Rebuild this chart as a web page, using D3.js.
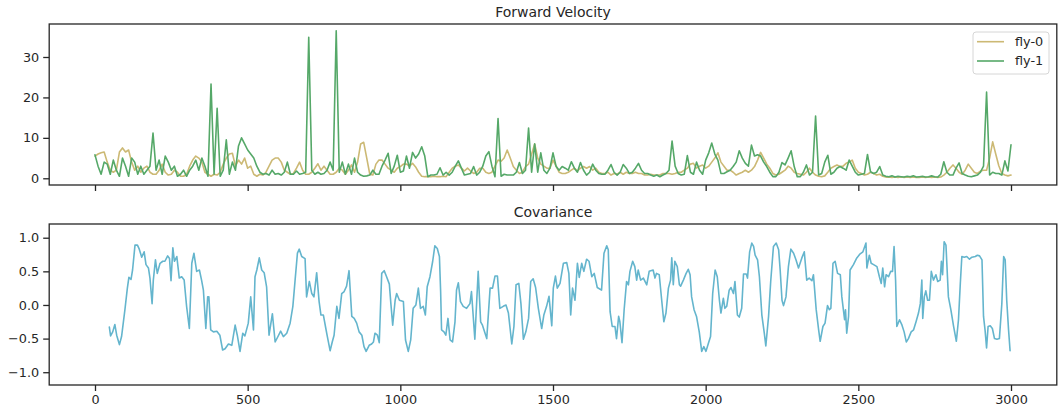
<!DOCTYPE html>
<html><head><meta charset="utf-8">
<script src="https://cdn.jsdelivr.net/npm/d3@7"></script>
<style>
body{margin:0;background:#fff}
svg text{font-family:"DejaVu Sans",sans-serif;fill:#262626}
</style>
</head><body>
<svg id="c" width="1063" height="415"></svg>
<script>
// ---- data ----
const xTicks = [0, 500, 1000, 1500, 2000, 2500, 3000];
const velTicks = [0, 10, 20, 30];
const covTicks = [-1.0, -0.5, 0.0, 0.5, 1.0];
const seriesNames = ["fly-0", "fly-1"];
const titles = ["Forward Velocity", "Covariance"];
// forward velocity sampled every 10 frames, 0..3000
const frameStep = 10;
const fly0 = [
 5.5,6,6.3,6.5,4,2,1.5,2,6.5,7.5,
 6.5,7,4,2,3,1.5,2.5,3,1.5,1,
 1,2,3.5,1.5,0.8,1,2,1.5,0.5,0.5,
 1,3,4.5,5.5,5,4,1.5,1,0.5,1,
 0.8,1.5,3.5,5,6,6.2,3,4.5,3.5,5,
 2.5,3,1,0.5,1,0.8,1.5,3,4.5,5,
 5,4,2,1.5,1,1.2,2.5,4,2,1,
 1,1.5,2.5,3.6,2,3,2,1,1,1.5,
 2.5,2,1,2,3.3,1.5,4,8.5,8.9,5,
 1,0.8,3.5,4.5,4.5,3.5,2.5,2,1.5,2.5,
 2.9,3.5,3.5,3,3.7,2.8,1.5,0.5,0.4,0.4,
 0.4,0.5,0.4,0.4,0.5,0.4,1.5,2.5,3,3.3,
 2.5,1.8,2.5,1.8,1.2,1.5,2.5,2.5,1.5,1.2,
 1.5,3,4.5,4.2,5,7,5,2.9,2,1.2,
 1.5,2.9,3.5,6,8.5,5,3.5,3,2.5,2.5,
 4.5,3,1.5,1.2,1.2,1.5,2,2.5,1.8,2.5,
 2.9,2.5,2.9,2,2.5,1.5,1.2,1.2,1.5,0.8,
 1.2,1,1.5,1,1.5,1.2,1.2,1.5,1.2,1.2,
 0.8,0.8,1,0.8,0.8,0.8,1.2,1.2,1.2,1,
 1.2,1.5,1.5,2,2.5,3.5,3.7,2.5,3,3.3,
 2.5,3,4,5,6.3,4,3,2,2,1.5,
 0.8,1.2,1.5,2,1.5,2,2.9,4.5,6.4,5,
 3.5,2.5,1.2,0.8,1,1.5,2,3,2.5,1.5,
 1.2,1,0.8,1.5,2.5,1.5,0.8,0.5,0.4,0.6,
 1.5,2.5,2.9,3.3,2.9,3,3.7,4,4.5,2.5,
 1.5,1.2,0.8,1,1.5,1.2,0.8,1,0.5,0.3,
 0.3,0.2,0.3,0.2,0.3,0.2,0.3,0.2,0.3,0.2,
 0.2,0.3,0.2,0.3,0.2,0.3,0.2,0.3,0.8,1.5,
 2.5,3.3,2.5,1.5,1,2,3.5,2.5,1.5,1.2,
 1.8,2,2,5,9,6,3.1,1.2,0.8,0.6,
 0.8
];
const fly1 = [
 5.8,3,1,4,3.5,1,4.5,2,0.5,5,
 3,0.5,5,4,1,3,1,2,3,11.2,
 2,4.5,1,5.5,4,2,3,0.5,1,2,
 0.5,2,3,4.5,2,5,3,0.5,23.3,1,
 17.3,0.5,2,9.5,1,4,2,8,10,8.5,
 7,6,5,3,1.5,1,1.2,0.8,2,1,
 1.2,0.8,1.5,4,1,1,1.8,1,1.2,1.5,
 34.9,2,1,1.5,1,1.2,2,4,2,36.5,
 1.5,4,1,3.5,1,5,1.5,0.8,0.5,0.6,
 0.8,2,1,1,3,4.5,6.2,1.2,3,5.7,
 1.5,1.8,5.5,2.5,6.4,5,6,7.8,5.5,0.4,
 0.8,0.8,1,2.6,0.8,1.5,0.8,1.5,3,4.3,
 2.5,0.8,1,1.2,2.9,0.8,1.5,3,5.5,6.6,
 3,0.4,14.8,0.5,1,0.8,0.8,0.8,1.5,3.9,
 1.2,2,12.4,1.5,8.5,1.5,6.3,2,1.2,2.5,
 6.3,3,2,2.9,2.5,2,4.1,2.5,1.5,3.9,
 2,0.8,1.5,3.5,2,1.2,1,1,2,3.4,
 1.5,0.8,1.5,3.4,2.5,1.2,1.5,2.5,3.7,2,
 1.2,1.2,0.8,0.5,0.8,0.4,0.8,1.2,2,9.2,
 3,1.2,0.8,1,5.6,1.5,1,4,2,1,
 4.5,6.3,8.7,6,4.5,1.2,1.2,1.6,2,2.9,
 4,6.8,5,3.7,3,8.2,5.5,5.8,5.5,4,
 2.9,1.5,0.4,0.4,1.5,3.9,3.3,5,6.8,2.9,
 0.4,0.4,1.5,3.3,0.8,1.5,15.4,0.8,1.2,4,
 5.7,1,1.5,2.5,2.9,2.5,2,4.5,3,1.5,
 0.8,1,1.2,5.9,1.6,1.2,1.5,2.9,0.8,0.5,
 0.4,0.6,0.3,0.5,0.4,0.3,0.5,0.4,0.6,0.3,
 0.4,0.5,0.3,0.4,0.6,0.4,0.3,1,4.1,1.5,
 0.8,0.8,2.5,3.8,1.2,0.8,0.5,0.4,0.6,0.8,
 1.5,3,21.3,0.8,1.5,1.2,1.2,0.8,4.3,1.8,
 8.3
];
// covariance (frame, value)
const covX = [47,51,58,65,71,80,87,98,106,111,118,123,131,139,145,153,161,167,175,180,187,191,198,204,213,222,229,238,244,249,255,260,268,276,284,292,300,309,317,324,333,342,349,355,363,369,373,379,388,399,409,418,426,437,448,459,466,475,484,491,502,510,519,524,530,538,546,554,562,570,581,590,598,608,617,628,639,648,655,663,669,677,688,693,702,710,717,726,734,740,748,756,761,770,777,783,792,799,808,816,824,832,841,849,857,865,874,881,888,898,906,912,917,925,931,939,947,955,964,969,975,983,988,997,
 1010,1017,1026,1034,1042,1051,1059,1066,1075,1082,1088,1097,1106,1113,1121,1128,1132,1135,1143,1149,1156,1163,1171,1179,1184,1190,1197,1206,1217,1228,1233,1244,1255,1263,1269,1283,1294,1302,1310,1318,1326,1337,1346,1354,1365,1372,1379,1388,1395,1403,1411,1420,1427,1435,1443,1452,1463,1470,1479,1487,1496,1501,1508,1514,1523,1534,1545,1552,1558,1564,1572,1580,1586,1594,1601,1610,1618,1627,1635,1645,1659,1667,1676,1681,1687,1694,1703,1708,1715,1719,1726,1733,1741,1747,1752,1761,1768,1774,1779,1787,1796,1807,1815,1828,1834,1839,1848,1856,1863,1870,1878,1885,1889,1894,1899,1907,1914,1918,1927,1936,1943,1949,1954,1962,1970,1979,1987,1994,2001,2009,2016,2023,2031,2038,2045,2050,2058,2063,2069,2077,2083,2091,2096,2104,2110,2118,2124,2133,2137,2144,2151,2157,2162,2170,2176,2184,2192,2197,2206,2213,2222,2231,2239,2244,2250,2255,2263,2271,2279,2288,2296,2304,2315,2323,2331,2339,2348,2353,2362,2370,2375,2384,2391,2399,2405,2410,2417,2424,2432,2441,2446,2451,2455,2458,2462,2468,2473,2484,2495,2506,2515,2525,2528,2536,2542,2550,2561,2569,2575,2580,2586,2591,2599,2606,2612,2617,2622,2626,2635,2643,2650,2657,2664,2673,2681,2689,2697,2703,2708,2711,2716,2721,2727,2733,2739,2746,2754,2760,2768,2772,2776,2781,2787,2795,2803,2812,2821,2828,2834,2839,2847,2855,2864,2872,2883,2890,2897,2905,2910,2915,2920,2925,2932,2939,2946,2954,2962,2970,2976,2981,2986,2992,2997];
const covY = [-0.33,-0.46,-0.40,-0.29,-0.45,-0.59,-0.47,-0.07,0.25,0.41,0.38,0.52,0.89,0.89,0.83,0.71,0.79,0.60,0.55,0.40,0.02,0.37,0.67,0.47,0.62,0.65,0.65,0.73,0.69,0.36,0.85,0.65,0.72,0.40,0.42,0.37,-0.02,-0.35,0.62,0.77,0.50,0.52,0.37,0.22,-0.35,0.12,0.12,-0.37,-0.40,-0.39,-0.45,-0.67,-0.65,-0.58,-0.60,-0.30,-0.45,-0.69,-0.42,-0.46,-0.27,0.12,-0.37,0.42,0.52,0.70,0.52,0.48,0.27,-0.45,-0.13,-0.55,-0.48,-0.39,-0.47,-0.42,-0.27,-0.02,0.35,0.77,0.83,0.72,0.69,0.12,0.35,0.17,0.12,0.48,0.05,-0.15,-0.15,-0.35,-0.47,-0.68,-0.55,-0.45,-0.02,-0.20,0.17,0.20,0.28,0.51,-0.17,-0.20,-0.27,-0.40,-0.45,-0.62,-0.69,-0.60,-0.58,-0.55,-0.42,-0.45,-0.56,0.47,0.51,0.42,0.31,0.02,-0.30,0.07,0.17,0.07,
 0.05,-0.52,-0.69,-0.52,-0.05,0.00,0.25,-0.05,-0.02,-0.15,0.27,0.42,0.65,0.88,0.84,0.72,0.20,-0.37,-0.40,-0.45,-0.20,-0.52,-0.55,-0.25,0.22,0.33,0.05,-0.02,-0.05,0.02,0.20,-0.51,0.50,-0.25,-0.30,-0.50,0.25,0.25,0.43,0.43,-0.05,-0.02,0.00,-0.12,-0.58,-0.32,0.30,0.32,0.02,-0.51,-0.40,-0.20,0.35,0.39,0.26,-0.05,-0.35,-0.15,-0.02,0.13,-0.31,0.25,0.43,0.25,0.32,0.62,0.63,0.47,-0.15,0.25,0.07,0.62,0.41,0.62,0.50,0.68,0.65,0.42,0.47,0.26,0.22,0.77,0.88,0.82,-0.10,-0.32,-0.32,-0.50,-0.17,-0.25,-0.56,-0.07,0.35,0.30,0.50,0.65,0.57,0.37,0.52,0.37,0.40,0.30,0.50,0.52,0.40,0.47,0.45,0.07,-0.25,-0.12,0.25,0.37,0.70,0.30,0.65,0.57,0.30,0.28,0.37,0.47,0.53,0.45,0.12,-0.07,-0.17,-0.40,-0.69,-0.62,-0.69,-0.57,-0.47,0.17,0.52,0.42,0.07,-0.12,0.10,-0.05,-0.02,0.22,0.26,0.17,0.35,-0.15,-0.18,-0.05,0.46,0.46,0.40,0.79,0.92,0.87,0.74,0.67,0.42,-0.15,-0.42,-0.61,-0.17,0.35,0.87,0.92,0.82,0.52,0.07,-0.01,0.12,0.57,0.83,0.77,0.67,0.55,0.70,0.79,0.37,0.40,0.36,0.45,-0.07,-0.37,-0.54,-0.32,-0.27,-0.01,-0.07,-0.05,0.62,0.65,0.47,0.45,0.12,-0.07,-0.22,-0.07,-0.42,-0.17,0.52,0.60,0.70,0.76,0.79,0.92,0.55,0.74,0.62,0.60,0.57,0.42,0.32,0.55,0.27,0.45,0.42,0.50,0.50,0.87,0.37,-0.32,-0.22,-0.30,-0.40,-0.55,-0.50,-0.40,-0.37,-0.25,-0.12,0.02,0.37,-0.20,0.12,0.21,0.07,0.07,0.50,0.37,0.45,0.35,0.37,0.65,0.45,0.94,0.89,0.12,-0.07,-0.32,-0.54,-0.22,0.32,0.72,0.71,0.72,0.68,0.71,0.72,0.74,0.73,0.67,-0.17,-0.37,-0.64,-0.32,-0.31,-0.35,-0.50,-0.51,-0.50,0.02,0.72,0.67,0.07,-0.37,-0.68];

// ---- styles ----
const colors = {"fly-0": "#ccb974", "fly-1": "#55a868", cov: "#64b5cd"};
const ink = "#262626";
const tickFont = "12.8px", titleFont = "14px";

const svg = d3.select("#c");
const x = d3.scaleLinear().domain([-150, 3150]).range([49.2, 1056.8]);
const yV = d3.scaleLinear().domain([-1.66, 38.16]).range([185, 24]);
const yC = d3.scaleLinear().domain([-1.19, 1.204]).range([385, 224]);

function panel(y, top, bottom, yTicks, yFmt, showX, title) {
  const g = svg.append("g");
  const ax = d3.axisBottom(x).tickValues(xTicks).tickSize(6).tickPadding(3.5)
      .tickFormat(showX ? d3.format("d") : () => "");
  const gx = g.append("g").attr("transform", `translate(0,${bottom})`).call(ax);
  const ay = d3.axisLeft(y).tickValues(yTicks).tickSize(6).tickPadding(4).tickFormat(yFmt);
  const gy = g.append("g").attr("transform", `translate(${x.range()[0]},0)`).call(ay);
  [gx, gy].forEach(a => {
    a.select(".domain").remove();
    a.selectAll(".tick line").attr("stroke", ink).attr("stroke-width", 1.3);
    a.selectAll(".tick text").attr("font-size", tickFont).attr("fill", ink)
      .style("font-family", '"DejaVu Sans", sans-serif');
  });
  g.append("text").attr("x", (x.range()[0] + x.range()[1]) / 2).attr("y", top - 7)
    .attr("text-anchor", "middle").attr("font-size", titleFont).text(title);
  return g;
}

panel(yV, 24, 185, velTicks, d3.format("d"), false, titles[0]);
panel(yC, 224, 385, covTicks, d3.format(".1f"), true, titles[1]);

const clip = (id, top, bottom) => svg.append("clipPath").attr("id", id)
  .append("rect").attr("x", x.range()[0]).attr("y", top)
  .attr("width", x.range()[1] - x.range()[0]).attr("height", bottom - top);
clip("cpT", 24, 185); clip("cpB", 224, 385);

const lineV = d3.line().x((d, i) => x(i * frameStep)).y(d => yV(d));
[["fly-0", fly0], ["fly-1", fly1]].forEach(([name, vals]) => {
  svg.append("path").attr("clip-path", "url(#cpT)").datum(vals)
    .attr("d", lineV).attr("fill", "none").attr("stroke", colors[name])
    .attr("stroke-width", 1.6).attr("stroke-linejoin", "round").attr("stroke-linecap", "round");
});

const covData = covX.map((f, i) => [f, covY[i]]);
svg.append("path").attr("clip-path", "url(#cpB)").datum(covData)
  .attr("d", d3.line().x(d => x(d[0])).y(d => yC(d[1])))
  .attr("fill", "none").attr("stroke", colors.cov).attr("stroke-width", 1.6)
  .attr("stroke-linejoin", "round").attr("stroke-linecap", "round");

// frames
[[24, 185], [224, 385]].forEach(([t, b]) => {
  svg.append("rect").attr("x", x.range()[0]).attr("y", t)
    .attr("width", x.range()[1] - x.range()[0]).attr("height", b - t)
    .attr("fill", "none").attr("stroke", ink).attr("stroke-width", 1.3);
});

// legend
const lg = svg.append("g").attr("transform", "translate(973,32)");
lg.append("rect").attr("width", 76).attr("height", 42).attr("rx", 3)
  .attr("fill", "#fff").attr("fill-opacity", 0.8).attr("stroke", "#d6d6d6").attr("stroke-width", 1);
seriesNames.forEach((n, i) => {
  const yy = 9.7 + i * 19.3;
  lg.append("line").attr("x1", 4).attr("x2", 31).attr("y1", yy).attr("y2", yy)
    .attr("stroke", colors[n]).attr("stroke-width", 1.6);
  lg.append("text").attr("x", 42).attr("y", yy).attr("dy", "0.35em")
    .attr("font-size", tickFont).text(n);
});
</script>
</body></html>
